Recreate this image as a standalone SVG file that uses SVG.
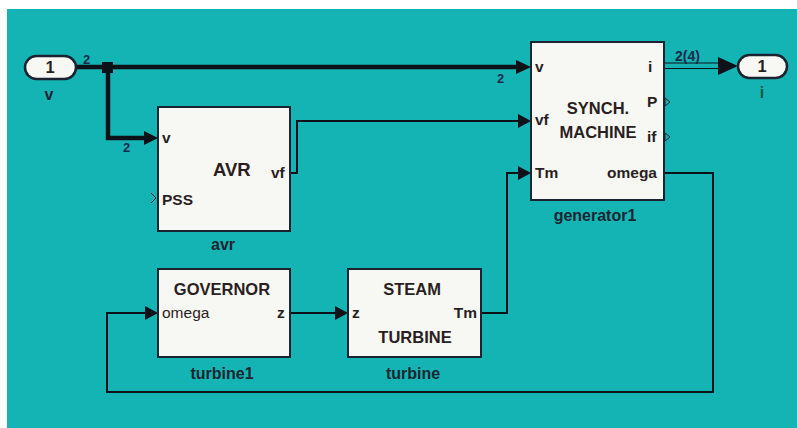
<svg xmlns="http://www.w3.org/2000/svg" width="797" height="428" viewBox="0 0 797 428">
<defs>
<style>
.blk{fill:#f7f8f3;stroke:#1b2230;stroke-width:2}
.pill{fill:#f7f8f3;stroke:#1b2230;stroke-width:2.5}
.t{font-family:"Liberation Sans",Arial,sans-serif;font-weight:bold;fill:#2a1e22}
.p{font-size:15.5px}
.n{font-size:16.5px;text-anchor:middle}
.lab{font-size:16px;text-anchor:middle;fill:#1c2530}
.sig{font-family:"Liberation Sans",Arial,sans-serif;font-weight:bold;font-size:13px;fill:#1c2a4a}
.w{fill:none;stroke:#0d1118;stroke-width:2}
.wt{fill:none;stroke:#0d1118;stroke-width:4.5}
.ah{fill:#0d1118}
.opn{fill:none;stroke:#1b2230;stroke-width:1}
</style>
</defs>
<rect x="0" y="0" width="797" height="428" fill="#ffffff"/>
<rect x="7" y="9" width="790" height="419" fill="#14b4b4"/>

<g id="connectors">
<path class="wt" d="M76 67 H518"/>
<polygon class="ah" points="516,60 531,67 516,74"/>
<path class="wt" d="M108 67 V138 H146"/>
<polygon class="ah" points="144,131 158,138 144,145"/>
<rect x="102" y="62" width="11" height="11" fill="#0d1118"/>
<path class="w" d="M290 173 H297 V121 H520"/>
<polygon class="ah" points="518,114 531,121 518,128"/>
<path class="w" d="M481 313 H507 V173 H520"/>
<polygon class="ah" points="518,166 531,173 518,180"/>
<path class="w" d="M290 313 H336"/>
<polygon class="ah" points="335,306 348,313 335,320"/>
<path class="w" d="M664 173 H713 V392 H107 V313 H146"/>
<polygon class="ah" points="145,306 158,313 145,320"/>
<path fill="none" stroke="#0d1118" stroke-width="1.2" d="M664 63 H722 M664 68.5 H722"/>
<polygon class="ah" points="718,57 738,66 718,75"/>
<text class="sig" x="83" y="64">2</text>
<text class="sig" x="123" y="152">2</text>
<text class="sig" x="497" y="83">2</text>
<text class="sig" x="675" y="61" style="font-size:14px">2(4)</text>
</g>

<g id="in_v">
<rect class="pill" x="25" y="56" width="51" height="23" rx="11.5"/>
<text class="t n" x="50" y="73">1</text>
<text class="t lab" x="49" y="100">v</text>
</g>

<g id="out_i">
<rect class="pill" x="738" y="55" width="49" height="23" rx="11.5"/>
<text class="t n" x="762" y="72">1</text>
<text class="t lab" x="762" y="98" style="fill:#1d5a3a">i</text>
</g>

<g id="avr">
<rect class="blk" x="158" y="107" width="132" height="124"/>
<text class="t p" x="162" y="143">v</text>
<text class="t" x="213" y="176" font-size="18.5">AVR</text>
<text class="t p" x="271" y="178">vf</text>
<text class="t p" x="162" y="205">PSS</text>
<path class="opn" d="M151 193 L156 198 L151 203" stroke-width="1.2"/>
<text class="t lab" x="223" y="250">avr</text>
</g>

<g id="generator1">
<rect class="blk" x="531" y="42" width="133" height="158"/>
<text class="t p" x="535" y="72">v</text>
<text class="t p" x="535" y="125">vf</text>
<text class="t p" x="535" y="178">Tm</text>
<text class="t n" x="598" y="114">SYNCH.</text>
<text class="t n" x="598" y="138">MACHINE</text>
<text class="t p" x="648" y="72">i</text>
<text class="t p" x="647" y="107">P</text>
<text class="t p" x="647" y="142">if</text>
<text class="t p" x="657" y="178" text-anchor="end">omega</text>
<path class="opn" d="M665 98 L670 102 L665 106 Z"/>
<path class="opn" d="M665 133 L670 137 L665 141 Z"/>
<text class="t lab" x="595" y="221">generator1</text>
</g>

<g id="turbine1">
<rect class="blk" x="158" y="269" width="132" height="88"/>
<text class="t n" x="222" y="295">GOVERNOR</text>
<text class="t p" x="162" y="318" style="font-weight:normal">omega</text>
<text class="t p" x="277" y="318">z</text>
<text class="t lab" x="222" y="379">turbine1</text>
</g>

<g id="turbine">
<rect class="blk" x="348" y="269" width="133" height="88"/>
<text class="t n" x="412" y="295">STEAM</text>
<text class="t p" x="352" y="318">z</text>
<text class="t p" x="477" y="318" text-anchor="end">Tm</text>
<text class="t n" x="415" y="343">TURBINE</text>
<text class="t lab" x="413" y="379">turbine</text>
</g>
</svg>
